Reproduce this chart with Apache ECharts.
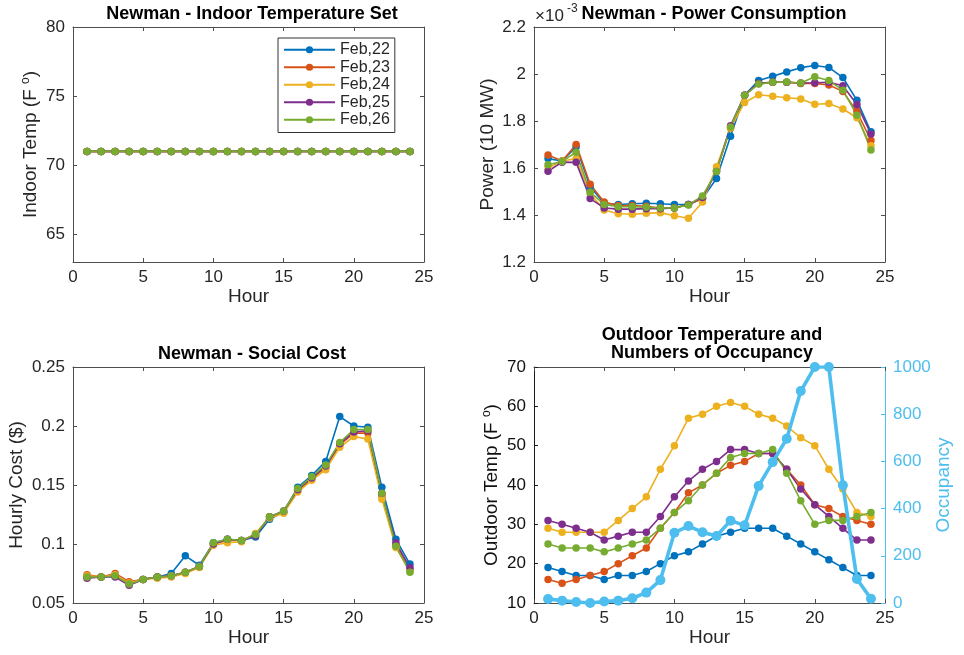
<!DOCTYPE html>
<html><head><meta charset="utf-8">
<script src="https://cdn.jsdelivr.net/npm/echarts@6/dist/echarts.min.js"></script>
<style>html,body{margin:0;padding:0;background:#fff}#c{width:964px;height:655px}</style>
</head><body><div id="c"></div>
<script>
const hours = [1,2,3,4,5,6,7,8,9,10,11,12,13,14,15,16,17,18,19,20,21,22,23,24];
const dayNames = ['Feb,22','Feb,23','Feb,24','Feb,25','Feb,26'];
const dayColors = ['#0072BD','#D95319','#EDB120','#7E2F8E','#77AC30'];
const occColor = '#4DBEEE';

// Indoor temperature set (F)
const indoor22 = [71,71,71,71,71,71,71,71,71,71,71,71,71,71,71,71,71,71,71,71,71,71,71,71];
const indoor23 = [71,71,71,71,71,71,71,71,71,71,71,71,71,71,71,71,71,71,71,71,71,71,71,71];
const indoor24 = [71,71,71,71,71,71,71,71,71,71,71,71,71,71,71,71,71,71,71,71,71,71,71,71];
const indoor25 = [71,71,71,71,71,71,71,71,71,71,71,71,71,71,71,71,71,71,71,71,71,71,71,71];
const indoor26 = [71,71,71,71,71,71,71,71,71,71,71,71,71,71,71,71,71,71,71,71,71,71,71,71];

// Power consumption (x10^-3, 10 MW)
const power22 = [1.64,1.63,1.69,1.52,1.45,1.445,1.448,1.45,1.448,1.445,1.445,1.47,1.555,1.735,1.91,1.972,1.99,2.009,2.027,2.036,2.028,1.985,1.888,1.754];
const power23 = [1.655,1.63,1.70,1.531,1.455,1.44,1.44,1.437,1.43,1.43,1.445,1.47,1.59,1.77,1.91,1.96,1.965,1.965,1.96,1.96,1.953,1.926,1.84,1.717];
const power24 = [1.60,1.63,1.64,1.49,1.421,1.405,1.403,1.407,1.41,1.397,1.386,1.455,1.605,1.77,1.879,1.912,1.905,1.899,1.894,1.871,1.874,1.851,1.814,1.695];
const power25 = [1.586,1.625,1.624,1.47,1.43,1.425,1.425,1.427,1.427,1.43,1.445,1.475,1.585,1.78,1.91,1.96,1.965,1.965,1.962,1.963,1.965,1.95,1.87,1.745];
const power26 = [1.614,1.628,1.667,1.497,1.445,1.435,1.435,1.433,1.43,1.43,1.443,1.481,1.585,1.775,1.91,1.957,1.965,1.966,1.962,1.988,1.972,1.931,1.825,1.677];

// Social cost ($)
const cost22 = [0.072,0.072,0.073,0.067,0.070,0.072,0.075,0.090,0.082,0.101,0.104,0.103,0.106,0.121,0.127,0.148,0.158,0.170,0.208,0.200,0.199,0.148,0.104,0.083];
const cost23 = [0.074,0.072,0.075,0.068,0.070,0.072,0.073,0.076,0.081,0.100,0.103,0.103,0.108,0.123,0.127,0.145,0.155,0.165,0.184,0.194,0.194,0.141,0.099,0.078];
const cost24 = [0.073,0.072,0.074,0.067,0.070,0.071,0.072,0.075,0.080,0.099,0.101,0.102,0.109,0.122,0.126,0.144,0.154,0.163,0.182,0.191,0.189,0.138,0.097,0.077];
const cost25 = [0.071,0.072,0.072,0.065,0.070,0.072,0.073,0.076,0.081,0.100,0.104,0.103,0.107,0.123,0.128,0.146,0.156,0.166,0.185,0.195,0.196,0.143,0.101,0.080];
const cost26 = [0.072,0.072,0.073,0.066,0.070,0.072,0.073,0.076,0.081,0.101,0.104,0.103,0.108,0.123,0.128,0.147,0.157,0.167,0.186,0.197,0.197,0.143,0.098,0.076];

// Outdoor temperature (F)
const outdoor22 = [19,18,17,17,16,17,17,18,20,22,23,25,27,28,29,29,29,27,25,23,21,19,17,17];
const outdoor23 = [16,15,16,17,18,20,22,24,29,33,38,40,43,45,46,48,48,44,40,35,34,32,31,30];
const outdoor24 = [29,28,28,28,28,31,34,37,44,50,57,58,60,61,60,58,57,55,52,50,44,39,33,32];
const outdoor25 = [31,30,29,28,26,27,28,28,32,37,41,44,46,49,49,48,48,44,39,35,32,29,26,26];
const outdoor26 = [25,24,24,24,23,24,25,26,29,33,36,40,43,47,48,48,49,43,36,30,31,31,32,33];

// Occupancy
const occupancy = [17,10,4,0,6,10,20,44,97,298,326,300,284,349,329,496,597,696,898,1000,1000,499,102,18];

const indoorTicks = [65,70,75,80];

const FONT = "'Liberation Sans', Arial, Helvetica, sans-serif";
const TXT = '#262626';
const AX = '#4d4d4d';

function pairs(vals){ return hours.map((h,i)=>[h, vals[i]]); }

function lineSeries(name, vals, idx, color, opts){
  return Object.assign({
    type:'line', name:name, data:pairs(vals),
    xAxisIndex: idx, yAxisIndex: idx,
    symbol:'circle', symbolSize:7.5, showSymbol:true,
    lineStyle:{width:1.6, color:color}, itemStyle:{color:color},
    emphasis:{disabled:true}, animation:false, z:3
  }, opts||{});
}

function bottomX(gi, nameGap){
  return {type:'value', gridIndex:gi, min:0, max:25, interval:5, position:'bottom',
    name:'Hour', nameLocation:'middle', nameGap:nameGap,
    nameTextStyle:{fontSize:19, color:TXT, fontFamily:FONT},
    axisLine:{show:true, lineStyle:{color:AX, width:1}},
    axisTick:{show:true, inside:true, length:4, lineStyle:{color:AX}},
    axisLabel:{show:true, fontSize:17, color:TXT, fontFamily:FONT, margin:7},
    splitLine:{show:false}};
}
function topX(gi){
  return {type:'value', gridIndex:gi, min:0, max:25, interval:5, position:'top',
    axisLine:{show:true, onZero:false, lineStyle:{color:AX, width:1}},
    axisTick:{show:true, inside:true, length:4, lineStyle:{color:AX}},
    axisLabel:{show:false}, splitLine:{show:false}};
}
function leftY(gi, o){
  const base = {type:'value', gridIndex:gi, position:'left',
    nameLocation:'middle', nameRotate:90,
    nameTextStyle:{fontSize:19, color:TXT, fontFamily:FONT},
    axisLine:{show:true, onZero:false, lineStyle:{color:AX, width:1}},
    axisTick:{show:true, inside:true, length:4, lineStyle:{color:AX}},
    axisLabel:{show:true, fontSize:17, color:TXT, fontFamily:FONT, margin:8},
    splitLine:{show:false}};
  return Object.assign(base, o);
}
function rightDummy(gi, o){
  return Object.assign({type:'value', gridIndex:gi, position:'right',
    axisLine:{show:true, onZero:false, lineStyle:{color:AX, width:1}},
    axisTick:{show:true, inside:true, length:4, lineStyle:{color:AX}},
    axisLabel:{show:false}, splitLine:{show:false}}, o);
}

const supRich = {s:{fontSize:12, fontFamily:FONT, color:TXT, padding:[0,0,10,0]}};

const grids = [
  {left:73, top:27, width:351, height:235},
  {left:534, top:27, width:351, height:235},
  {left:73, top:367, width:351, height:236},
  {left:534, top:367, width:351, height:236}
];

const xAxes = [bottomX(0,25), bottomX(1,25), bottomX(2,25), bottomX(3,25), topX(0), topX(1), topX(2), topX(3)];

const yAxes = [
  leftY(0, {min:63, max:80, name:'Indoor Temp (F {s|o})', nameGap:31,
    nameTextStyle:{fontSize:19, color:TXT, fontFamily:FONT, rich:supRich},
    axisLabel:{show:true, fontSize:17, color:TXT, fontFamily:FONT, margin:8, customValues:indoorTicks},
    axisTick:{show:true, inside:true, length:4, lineStyle:{color:AX}, customValues:indoorTicks}}),
  leftY(1, {min:1.2, max:2.2, interval:0.2, name:'Power (10 MW)', nameGap:37}),
  leftY(2, {min:0.05, max:0.25, interval:0.05, name:'Hourly Cost ($)', nameGap:47}),
  leftY(3, {min:10, max:70, interval:10, name:'Outdoor Temp (F {s|o})', nameGap:31,
    axisLine:{show:true, onZero:false, lineStyle:{color:'#1a1a1a', width:1}},
    axisTick:{show:true, inside:true, length:4, lineStyle:{color:'#1a1a1a'}},
    axisLabel:{show:true, fontSize:17, color:'#111', fontFamily:FONT, margin:8},
    nameTextStyle:{fontSize:19, color:'#111', fontFamily:FONT, rich:{s:{fontSize:12, fontFamily:FONT, color:'#111', padding:[0,0,10,0]}}}}),
  rightDummy(0, {min:63, max:80, axisTick:{show:true, inside:true, length:4, lineStyle:{color:AX}, customValues:indoorTicks}}),
  rightDummy(1, {min:1.2, max:2.2, interval:0.2}),
  rightDummy(2, {min:0.05, max:0.25, interval:0.05}),
  {type:'value', gridIndex:3, position:'right', min:0, max:1000, interval:200,
    name:'Occupancy', nameLocation:'middle', nameRotate:90, nameGap:48,
    nameTextStyle:{fontSize:19, color:occColor, fontFamily:FONT, verticalAlign:'top'},
    axisLine:{show:true, onZero:false, lineStyle:{color:occColor, width:1}},
    axisTick:{show:true, inside:true, length:4, lineStyle:{color:occColor}},
    axisLabel:{show:true, fontSize:17, color:occColor, fontFamily:FONT, margin:8, formatter:(v)=>String(v)},
    splitLine:{show:false}}
];

const indoorSets = [indoor22, indoor23, indoor24, indoor25, indoor26];
const powerSets = [power22, power23, power24, power25, power26];
const costSets = [cost22, cost23, cost24, cost25, cost26];
const outdoorSets = [outdoor22, outdoor23, outdoor24, outdoor25, outdoor26];

const series = [];
indoorSets.forEach((v,i)=>series.push(lineSeries(dayNames[i], v, 0, dayColors[i])));
powerSets.forEach((v,i)=>series.push(lineSeries(dayNames[i], v, 1, dayColors[i])));
costSets.forEach((v,i)=>series.push(lineSeries(dayNames[i], v, 2, dayColors[i])));
outdoorSets.forEach((v,i)=>series.push(lineSeries(dayNames[i], v, 3, dayColors[i])));
series.push(lineSeries('Occupancy', occupancy, 3, occColor, {yAxisIndex:7, symbolSize:10, lineStyle:{width:3.6, color:occColor}, z:4}));

const titleStyle = {fontSize:18, fontWeight:'bold', color:'#000', fontFamily:FONT};

const option = {
  backgroundColor:'#fff',
  animation:false,
  grid: grids,
  xAxis: xAxes,
  yAxis: yAxes,
  title: [
    {text:'Newman - Indoor Temperature Set', left:252, top:14, textAlign:'center', textVerticalAlign:'middle', padding:0, textStyle:titleStyle},
    {text:'Newman - Power Consumption', left:714, top:14, textAlign:'center', textVerticalAlign:'middle', padding:0, textStyle:titleStyle},
    {text:'Newman - Social Cost', left:252, top:354, textAlign:'center', textVerticalAlign:'middle', padding:0, textStyle:titleStyle},
    {text:'Outdoor Temperature and\nNumbers of Occupancy', left:712, top:344, textAlign:'center', textVerticalAlign:'middle', padding:0, textStyle:Object.assign({lineHeight:18.5}, titleStyle)}
  ],
  legend: {
    data: dayNames, orient:'vertical', left:278, top:38,
    itemWidth:51, itemHeight:9, itemGap:0,
    padding:[3,5,4,5],
    borderColor:'#333', borderWidth:1, backgroundColor:'#fff',
    textStyle:{fontSize:16, color:TXT, fontFamily:FONT, lineHeight:17.5},
    selectedMode:false
  },
  graphic: [
    {type:'text', left:535, top:8, z:1, style:{text:'×10', fontSize:17, fill:TXT, fontFamily:FONT}},
    {type:'text', left:567, top:3, z:1, style:{text:'-3', fontSize:12, fill:TXT, fontFamily:FONT}}
  ],
  series: series
};

const chart = echarts.init(document.getElementById('c'), null, {renderer:'canvas'});
chart.setOption(option);
</script>
</body></html>
